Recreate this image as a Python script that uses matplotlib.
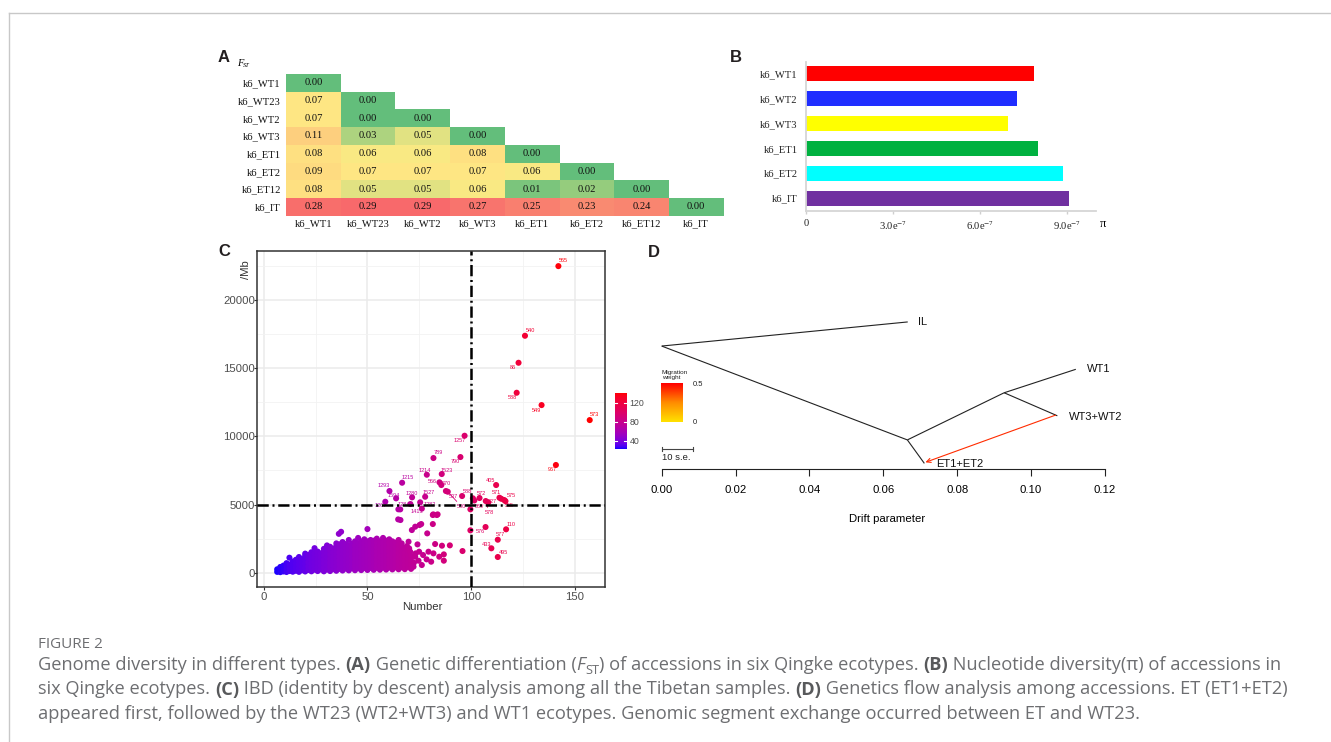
import numpy as np
import matplotlib
matplotlib.use("Agg")
import matplotlib.pyplot as plt
from matplotlib.colors import LinearSegmentedColormap, ListedColormap, Normalize, TwoSlopeNorm
from matplotlib.lines import Line2D
from matplotlib.cm import ScalarMappable

plt.rcParams['mathtext.fontset'] = 'stix'

W, H = 1331, 742
fig = plt.figure(figsize=(W / 100, H / 100), dpi=100)
SERIF = 'Liberation Serif'
SANS = 'Liberation Sans'

# ------------------------------------------------------------------ data
# Panel A : pairwise FST (lower triangle)
fst_pops = ["k6_WT1", "k6_WT23", "k6_WT2", "k6_WT3", "k6_ET1", "k6_ET2", "k6_ET12", "k6_IT"]
fst_lower = [
    [0.00],
    [0.07, 0.00],
    [0.07, 0.00, 0.00],
    [0.11, 0.03, 0.05, 0.00],
    [0.08, 0.06, 0.06, 0.08, 0.00],
    [0.09, 0.07, 0.07, 0.07, 0.06, 0.00],
    [0.08, 0.05, 0.05, 0.06, 0.01, 0.02, 0.00],
    [0.28, 0.29, 0.29, 0.27, 0.25, 0.23, 0.24, 0.00],
]

# Panel B : nucleotide diversity
pi_pops = ["k6_WT1", "k6_WT2", "k6_WT3", "k6_ET1", "k6_ET2", "k6_IT"]
pi_values = [7.87e-7, 7.29e-7, 6.97e-7, 8.00e-7, 8.87e-7, 9.08e-7]
pi_colors = ["#FF0000", "#1F2DFF", "#FFFF00", "#00B140", "#00FFFF", "#7030A0"]
pi_ticks = [0, 3e-7, 6e-7, 9e-7]
pi_ticklabels = ["0", r"3.0e$^{-7}$", r"6.0e$^{-7}$", r"9.0e$^{-7}$"]

# Panel C : IBD (Number, length/Mb, colour value)
# dense cloud, given as columns: (Number, colour value, [lengths])
ibd_cloud = [
    (6.5, 24, [60, 250]),
    (8.0, 25, [40, 220, 420]),
    (9.5, 26, [90, 300, 520]),
    (11.0, 28, [50, 260, 480, 700]),
    (12.4, 29, [1100]),
    (12.5, 29, [120, 350, 600]),
    (14.0, 30, [70, 300, 560, 820]),
    (15.5, 31, [140, 400, 650, 950]),
    (17.0, 32, [60, 320, 600, 880, 1150]),
    (18.5, 33, [180, 450, 720, 1000]),
    (20.0, 34, [90, 350, 640, 930, 1250, 1400]),
    (21.5, 36, [200, 480, 760, 1050, 1300]),
    (23.0, 37, [100, 380, 660, 950, 1230, 1500]),
    (24.5, 38, [220, 500, 800, 1100, 1400, 1800]),
    (26.0, 39, [120, 400, 700, 980, 1280, 1550]),
    (27.5, 40, [240, 530, 820, 1120, 1420]),
    (29.0, 41, [100, 380, 680, 970, 1260, 1560, 1750]),
    (30.5, 42, [230, 520, 820, 1120, 1420, 1720, 2000]),
    (32.0, 44, [120, 420, 720, 1020, 1320, 1620, 1900]),
    (33.5, 45, [260, 560, 860, 1160, 1460, 1760]),
    (35.0, 46, [140, 440, 740, 1040, 1340, 1640, 1950, 2150]),
    (36.2, 47, [2850]),
    (37.3, 48, [3000]),
    (36.5, 47, [280, 580, 880, 1180, 1480, 1780, 2080]),
    (38.0, 48, [160, 460, 760, 1060, 1360, 1660, 1960, 2250]),
    (39.5, 49, [300, 600, 900, 1200, 1500, 1800, 2100]),
    (41.0, 50, [170, 470, 770, 1070, 1370, 1670, 1970, 2400]),
    (42.5, 51, [320, 620, 920, 1220, 1520, 1820, 2120]),
    (44.0, 53, [180, 480, 780, 1080, 1380, 1680, 1980, 2300]),
    (45.5, 54, [330, 630, 930, 1230, 1530, 1830, 2130, 2550]),
    (47.0, 55, [190, 490, 790, 1090, 1390, 1690, 1990, 2300]),
    (48.5, 56, [340, 640, 940, 1240, 1540, 1840, 2140, 2450]),
    (50.0, 57, [200, 500, 800, 1100, 1400, 1700, 2000, 2300, 3200]),
    (51.5, 58, [350, 650, 950, 1250, 1550, 1850, 2150, 2400]),
    (53.0, 59, [210, 510, 810, 1110, 1410, 1710, 2010, 2350]),
    (54.5, 61, [360, 660, 960, 1260, 1560, 1860, 2200, 2500]),
    (56.0, 62, [220, 520, 820, 1120, 1420, 1720, 2020, 2300]),
    (57.5, 63, [370, 670, 970, 1270, 1570, 1870, 2170, 2550]),
    (59.0, 64, [230, 530, 830, 1130, 1430, 1730, 2030, 2350]),
    (60.5, 65, [380, 680, 980, 1280, 1580, 1880, 2180, 2450]),
    (62.0, 66, [240, 540, 840, 1140, 1440, 1740, 2040, 2300]),
    (63.5, 67, [390, 690, 990, 1290, 1590, 1890, 2200]),
    (65.0, 69, [250, 550, 850, 1150, 1450, 1750, 2050, 2400]),
    (66.5, 70, [400, 700, 1000, 1300, 1600, 1900, 2150]),
    (68.0, 71, [260, 560, 860, 1160, 1460, 1780]),
    (69.5, 72, [420, 720, 1020, 1320, 1600]),
    (71.0, 73, [280, 600, 900, 1250]),
]
# scattered unlabeled pairs
ibd_sparse_num = [64.8, 65.8, 65.9, 69.0, 69.8, 71.4, 73.0, 75.1, 75.9, 78.8, 81.7, 83.8,
                  81.5, 95.8, 89.7, 85.9, 86.8, 82.6, 81.8, 80.7, 78.5, 84.6, 74.1, 73.2,
                  86.8, 76.8, 74.6, 72.4, 73.0, 70.6, 79.4, 74.9, 72.2, 76.2, 70.1,
                  100.8, 99.6, 106.9, 81.5, 83.4, 64.9, 114.5]
ibd_sparse_len = [3910, 4643, 3863, 1955, 2273, 3128, 3373, 3495, 3568, 2884, 4277, 4277,
                  3568, 1589, 2004, 1980, 1344, 2102, 1418, 806, 978, 1173, 2077, 1418,
                  880, 1295, 880, 733, 1173, 1540, 1540, 1540, 440, 562, 1784,
                  5455, 4648, 3350, 4230, 4230, 4648, 5420]
ibd_sparse_col = [68, 69, 69, 72, 73, 74, 75, 77, 78, 80, 83, 85,
                  83, 96, 92, 88, 89, 84, 83, 82, 80, 86, 76, 75,
                  89, 79, 77, 75, 75, 73, 81, 77, 74, 78, 73,
                  101, 100, 107, 83, 84, 68, 114]
# labelled samples
ibd_label_ids = ["565", "540", "86", "588", "549", "573", "967", "1257", "789", "790",
                 "1214", "1523", "566", "570", "1215", "1293", "1594", "1267", "1280", "1527",
                 "1284", "1413", "1282", "537", "580", "588", "569", "572", "527", "578",
                 "405", "571", "575", "555", "576", "110", "577", "433", "495"]
ibd_label_num = [142.0, 125.9, 122.8, 121.9, 133.9, 157.1, 140.8, 96.8, 81.8, 94.8,
                 78.6, 85.8, 84.7, 85.6, 66.7, 60.6, 63.8, 58.6, 71.5, 77.8,
                 70.7, 75.4, 76.2, 87.8, 88.7, 95.6, 101.5, 104.0, 108.2, 107.0,
                 112.0, 113.6, 115.9, 116.5, 99.6, 116.8, 112.8, 109.7, 112.8]
ibd_label_len = [22485, 17377, 15397, 13198, 12293, 11193, 7900, 10045, 8409, 8482,
                 7185, 7236, 6628, 6430, 6598, 5990, 5452, 5205, 5526, 5570,
                 5036, 5161, 4700, 5990, 5938, 5623, 5300, 5477, 5150, 5257,
                 6430, 5499, 5330, 5250, 3108, 3182, 2419, 1789, 1151]
ibd_label_col = [139, 125, 122, 121, 132, 141, 138, 97, 84, 95,
                 81, 88, 87, 88, 70, 65, 68, 64, 75, 80,
                 74, 77, 78, 90, 91, 96, 101, 104, 108, 107,
                 112, 113, 116, 116, 100, 117, 113, 110, 113]
num_cut, len_cut = 100, 5000

# Panel D : treemix tree
tree_nodes = ["root", "IL", "n1", "ET1+ET2", "n2", "WT1", "WT3+WT2"]
tree_drift = [0.0, 0.0666, 0.0665, 0.0711, 0.0927, 0.1121, 0.1071]
tree_y = [0.562, 0.672, 0.134, 0.027, 0.349, 0.456, 0.244]
tree_edges = [("root", "IL"), ("root", "n1"), ("n1", "ET1+ET2"), ("n1", "n2"),
              ("n2", "WT1"), ("n2", "WT3+WT2")]
tree_tips = ["IL", "WT1", "WT3+WT2", "ET1+ET2"]
migration_from, migration_to, migration_weight = "WT3+WT2", "ET1+ET2", 0.42
se_bar_drift = 0.00855

# ------------------------------------------------------------------ helpers
def box(x0, y0, x1, y1):
    return fig.add_axes([x0 / W, 1 - y1 / H, (x1 - x0) / W, (y1 - y0) / H])

def ftxt(x, y, s, **kw):
    return fig.text(x / W, 1 - y / H, s, **kw)

# frame
fig.add_artist(Line2D([9 / W, 1], [1 - 13 / H] * 2, color='#C8C8C8', lw=1.0))
fig.add_artist(Line2D([9 / W] * 2, [1 - 13 / H, 0], color='#C8C8C8', lw=1.0))

letter_kw = dict(fontsize=12, fontweight='bold', family=SANS, color='#231F20', va='center', ha='center')
ftxt(223.5, 57, 'A', **letter_kw)
ftxt(736, 58, 'B', **letter_kw)
ftxt(224, 252, 'C', **letter_kw)
ftxt(653.5, 252.5, 'D', **letter_kw)

# ------------------------------------------------------------------ Panel A
n = len(fst_pops)
M = np.full((n, n), np.nan)
for i, row in enumerate(fst_lower):
    M[i, :len(row)] = row
fst_cmap = LinearSegmentedColormap.from_list('fst', ['#63BE7B', '#FFEB84', '#F8696B'])
fst_cmap.set_bad((1, 1, 1, 0))
fst_norm = TwoSlopeNorm(vmin=0.0, vcenter=0.062, vmax=0.29)
axA = box(286.3, 74, 723.3, 215.7)
axA.imshow(np.ma.masked_invalid(M), cmap=fst_cmap, norm=fst_norm, aspect='auto',
           interpolation='nearest')
for i in range(n):
    for j in range(i + 1):
        axA.text(j, i, f"{M[i, j]:.2f}", ha='center', va='center', fontsize=7.6,
                 family=SERIF, color='#111111')
axA.set_xticks(range(n))
axA.set_xticklabels(fst_pops, family=SERIF, fontsize=7.6, color='#111111')
axA.set_yticks(range(n))
axA.set_yticklabels(fst_pops, family=SERIF, fontsize=7.6, color='#111111')
axA.tick_params(axis='y', length=0, pad=4)
axA.tick_params(axis='x', length=0, pad=2.4)
for s in axA.spines.values():
    s.set_visible(False)
ftxt(237, 66, 'F', family=SERIF, style='italic', fontsize=7.5, va='baseline', ha='left')
ftxt(242.5, 67, 'ST', family=SERIF, style='italic', fontsize=4.6, va='baseline', ha='left')

# ------------------------------------------------------------------ Panel B
axB = box(806, 61.7, 1095.6, 211)
ypos = np.arange(len(pi_pops))
axB.barh(ypos, pi_values, height=0.6, color=pi_colors)
axB.set_ylim(5.514, -0.473)
axB.set_xlim(0, 1.0e-6)
axB.set_yticks(ypos)
axB.set_yticklabels(pi_pops, family=SERIF, fontsize=7.6, color='#222222')
axB.set_xticks(pi_ticks)
axB.set_xticklabels(pi_ticklabels, family=SERIF, fontsize=7.6, color='#222222')
axB.tick_params(axis='y', length=0, pad=6)
axB.tick_params(axis='x', length=2.5, width=1.0, color='#CFCFCF', pad=3.5)
for side in ['top', 'right']:
    axB.spines[side].set_visible(False)
for side in ['left', 'bottom']:
    axB.spines[side].set_color('#D6D6D6')
    axB.spines[side].set_linewidth(1.3)
ftxt(1103, 224, 'π', family=SERIF, fontsize=9, ha='center', va='center')

# ------------------------------------------------------------------ Panel C
def srgb_to_lin(c):
    c = np.asarray(c, float)
    return np.where(c <= 0.04045, c / 12.92, ((c + 0.055) / 1.055) ** 2.4)

def lin_to_srgb(c):
    c = np.clip(c, 0, 1)
    return np.where(c <= 0.0031308, 12.92 * c, 1.055 * c ** (1 / 2.4) - 0.055)

RGB2XYZ = np.array([[0.4124, 0.3576, 0.1805], [0.2126, 0.7152, 0.0722], [0.0193, 0.1192, 0.9505]])
WHITE = np.array([0.95047, 1.0, 1.08883])

def rgb_to_lab(rgb):
    xyz = RGB2XYZ @ srgb_to_lin(rgb) / WHITE
    f = np.where(xyz > (6 / 29) ** 3, np.cbrt(xyz), xyz / (3 * (6 / 29) ** 2) + 4 / 29)
    return np.array([116 * f[1] - 16, 500 * (f[0] - f[1]), 200 * (f[1] - f[2])])

def lab_to_rgb(lab):
    fy = (lab[0] + 16) / 116
    f = np.array([fy + lab[1] / 500, fy, fy - lab[2] / 200])
    xyz = np.where(f > 6 / 29, f ** 3, 3 * (6 / 29) ** 2 * (f - 4 / 29)) * WHITE
    return lin_to_srgb(np.linalg.inv(RGB2XYZ) @ xyz)

lab_lo, lab_hi = rgb_to_lab([0, 0, 1]), rgb_to_lab([1, 0, 0])
ibd_cmap = ListedColormap([lab_to_rgb(lab_lo + t * (lab_hi - lab_lo)) for t in np.linspace(0, 1, 256)])
ibd_norm = Normalize(23, 141)

axC = box(257.3, 250.7, 605, 586.7)
axC.set_xlim(-3.08, 164.46)
axC.set_ylim(-1027, 23616)
axC.set_axisbelow(True)
axC.set_xticks([0, 50, 100, 150])
axC.set_xticks([25, 75, 125], minor=True)
axC.set_yticks([0, 5000, 10000, 15000, 20000])
axC.set_yticks([2500, 7500, 12500, 17500, 22500], minor=True)
axC.grid(which='major', color='#EBEBEB', lw=1.1)
axC.grid(which='minor', color='#F2F2F2', lw=0.6)
for s in axC.spines.values():
    s.set_color('#333333')
    s.set_linewidth(1.1)
axC.tick_params(which='major', length=2, width=0.8, color='#333333', labelsize=8.2,
                labelcolor='#4D4D4D')
axC.tick_params(axis='y', pad=-0.5)
axC.tick_params(axis='x', pad=1.5)
axC.tick_params(which='minor', length=0)
for lbl in axC.get_xticklabels() + axC.get_yticklabels():
    lbl.set_family(SANS)

cx, cy, cc = [], [], []
for xv, cv, ys in ibd_cloud:
    for yv in ys:
        cx.append(xv); cy.append(yv); cc.append(cv)
sc = axC.scatter(cx, cy, c=cc, cmap=ibd_cmap, norm=ibd_norm, s=19, linewidths=0, zorder=3)
axC.scatter(ibd_sparse_num, ibd_sparse_len, c=ibd_sparse_col, cmap=ibd_cmap, norm=ibd_norm,
            s=19, linewidths=0, zorder=3)
axC.scatter(ibd_label_num, ibd_label_len, c=ibd_label_col, cmap=ibd_cmap, norm=ibd_norm,
            s=19, linewidths=0, zorder=3)

# label offsets in pixels (right, down) and whether a repel segment is drawn
label_offsets = [(4.7, -5.3), (5.3, -5), (-5.7, 5), (-4.7, 5), (-5.3, 5.7), (5, -5.3), (-4, 4.7),
                 (-5.3, 4.3), (4.7, -5.3), (-5, 4.3), (-2, -4.3), (4.7, -3.7), (-7, -1), (5.3, -2),
                 (5.7, -5), (-6, -5.7), (-2, -3), (-4.3, 4), (0, -4.3), (4, -4.7), (-7, 0),
                 (-3, 9), (8.2, -4.3), (7.4, 5.7), (13.9, 15), (5, -4.3), (4.5, 6), (2.2, -4.7),
                 (4.5, -0.8), (3.5, 11.7), (-5.4, -4.7), (-2.8, -5.4), (6.8, -4.3), (3.5, 4),
                 (9.6, 1.4), (4.9, -5), (3, -5.4), (-4.7, -4.3), (5.5, -4.7)]
label_segment = {"1413", "580", "578"}
for lab, xv, yv, cv, (dx, dy) in zip(ibd_label_ids, ibd_label_num, ibd_label_len,
                                      ibd_label_col, label_offsets):
    col = ibd_cmap(ibd_norm(cv))
    arrow = None
    if lab in label_segment and (dx, dy) in [(-3, 9), (13.9, 15), (3.5, 11.7)]:
        arrow = dict(arrowstyle='-', color=col, lw=0.6, shrinkA=0, shrinkB=1.5)
    axC.annotate(lab, (xv, yv), xytext=(dx * 0.72, -dy * 0.72), textcoords='offset points',
                 ha='center', va='center', fontsize=4, family=SANS, color=col,
                 arrowprops=arrow, zorder=4)

dash = (0, (4.5, 1.5, 0.8, 1.5))
axC.axvline(num_cut, color='black', lw=1.8, ls=dash, zorder=5)
axC.axhline(len_cut, color='black', lw=1.8, ls=dash, zorder=5)

ftxt(422, 607, 'Number', family=SANS, fontsize=8.2, color='#333333', ha='center', va='center')
ftxt(245.7, 270, '/Mb', family=SANS, fontsize=8.2, color='#333333', ha='center', va='center',
     rotation=90)

caxC = box(615, 392.7, 626.7, 449)
cbC = fig.colorbar(sc, cax=caxC, ticks=[40, 80, 120])
cbC.outline.set_visible(False)
caxC.tick_params(length=0, labelsize=6.3, labelcolor='#4D4D4D', pad=1.9)
for lbl in caxC.get_yticklabels():
    lbl.set_family(SANS)
for v in [40, 80, 120]:
    caxC.plot([0, 0.2], [v, v], color='white', lw=0.8)
    caxC.plot([0.8, 1.0], [v, v], color='white', lw=0.8)
caxC.set_xlim(0, 1)

# ------------------------------------------------------------------ Panel D
axD = box(661.7, 250, 1105, 469.3)
axD.set_xlim(0, 0.12)
axD.set_ylim(0, 1)
node_x = dict(zip(tree_nodes, tree_drift))
node_y = dict(zip(tree_nodes, tree_y))
for a, b in tree_edges:
    axD.plot([node_x[a], node_x[b]], [node_y[a], node_y[b]], color='#222222', lw=0.8,
             clip_on=False, solid_capstyle='butt')
tip_offsets = {"IL": (7.5, 0), "WT1": (8, 0.5), "WT3+WT2": (8.5, -0.7), "ET1+ET2": (8.5, -0.5)}
for tip in tree_tips:
    axD.annotate(tip, (node_x[tip], node_y[tip]), xytext=tip_offsets[tip], textcoords='offset points',
                 ha='left', va='center', fontsize=8, family=SANS, color='#111111')

heat = LinearSegmentedColormap.from_list('heat', ['#FFE000', '#FF8C00', '#FF0000'])
mig_norm = Normalize(0, 0.5)
axD.annotate('', xy=(node_x[migration_to] + 0.0003, node_y[migration_to] + 0.005),
             xytext=(node_x[migration_from] - 0.0005, node_y[migration_from] + 0.003),
             arrowprops=dict(arrowstyle='->,head_length=0.3,head_width=0.15',
                             color=heat(mig_norm(migration_weight)), lw=0.8,
                             shrinkA=0, shrinkB=0))

for side in ['top', 'left', 'right']:
    axD.spines[side].set_visible(False)
axD.spines['bottom'].set_color('#222222')
axD.spines['bottom'].set_linewidth(0.8)
axD.set_yticks([])
axD.set_xticks(np.arange(0, 0.121, 0.02))
axD.set_xticklabels([f"{v:.2f}" for v in np.arange(0, 0.121, 0.02)], family=SANS, fontsize=8.2)
axD.tick_params(axis='x', length=5, width=0.8, color='#222222', pad=6)
axD.patch.set_alpha(0)
ftxt(886.7, 519.3, 'Drift parameter', family=SANS, fontsize=8.2, ha='center', va='center')

# scale bar (10 s.e.)
axD.plot([0, se_bar_drift], [0.0912, 0.0912], color='#444444', lw=0.8, clip_on=False)
for xv in [0, se_bar_drift]:
    axD.plot([xv, xv], [0.0812, 0.1012], color='#444444', lw=0.8, clip_on=False)
ftxt(661.7, 457.7, '10 s.e.', family=SANS, fontsize=6.8, ha='left', va='center', color='#222222')

# migration weight legend
ftxt(661.7, 375, 'Migration\nweight', family=SANS, fontsize=4.6, ha='left', va='center',
     linespacing=0.8, color='#222222')
caxD = box(661, 383.3, 682.7, 421.7)
cbD = fig.colorbar(ScalarMappable(norm=mig_norm, cmap=heat), cax=caxD, ticks=[0, 0.5])
cbD.outline.set_visible(False)
cbD.set_ticklabels(['0', '0.5'])
caxD.tick_params(length=0, labelsize=5.5, pad=7.5, labelcolor='#222222')
for lbl in caxD.get_yticklabels():
    lbl.set_family(SANS)

# ------------------------------------------------------------------ caption
renderer = fig.canvas.get_renderer()
CAP_FONT = 'Open Sans'
cap_color = '#6D6E71'

def styled(kind, size):
    d = dict(family=CAP_FONT, color=cap_color, fontsize=size)
    if kind == 'b':
        d.update(fontweight='bold', color='#58595B')
    elif kind == 'i':
        d.update(style='italic')
    elif kind == 's':
        d.update(fontsize=size * 0.7)
    return d

def seg_width(s, **kw):
    t = fig.text(0, 0, s + '|', **kw)
    w1 = t.get_window_extent(renderer).width
    t.remove()
    t = fig.text(0, 0, '|', **kw)
    w2 = t.get_window_extent(renderer).width
    t.remove()
    return w1 - w2

def line_width(segs, size):
    return sum(seg_width(t, **styled(k, size)) for t, k in segs)

def draw_line(segs, x, y, size):
    for t, k in segs:
        kw = styled(k, size)
        dy = 3.5 if k == 's' else 0
        fig.text(x / W, 1 - (y + dy) / H, t, va='baseline', ha='left', **kw)
        x += seg_width(t, **kw)

cap_lines = [
    [("Genome diversity in different types. ", 'n'), ("(A)", 'b'),
     (" Genetic differentiation (", 'n'), ("F", 'i'), ("ST", 's'),
     (") of accessions in six Qingke ecotypes. ", 'n'), ("(B)", 'b'),
     (" Nucleotide diversity(π) of accessions in", 'n')],
    [("six Qingke ecotypes. ", 'n'), ("(C)", 'b'),
     (" IBD (identity by descent) analysis among all the Tibetan samples. ", 'n'),
     ("(D)", 'b'), (" Genetics flow analysis among accessions. ET (ET1+ET2)", 'n')],
    [("appeared first, followed by the WT23 (WT2+WT3) and WT1 ecotypes. Genomic segment "
      "exchange occurred between ET and WT23.", 'n')],
]
base = 11.0
cap_size = base * 1252 / line_width(cap_lines[0], base)
for segs, yb in zip(cap_lines, [670, 694.5, 719]):
    draw_line(segs, 38, yb, cap_size)

fig_w = seg_width("FIGURE 2", family=CAP_FONT, fontsize=10)
ftxt(38, 648, "FIGURE 2", family=CAP_FONT, fontsize=10 * 65 / fig_w, color=cap_color,
     va='baseline', ha='left')

fig.savefig('out.png', dpi=100)
